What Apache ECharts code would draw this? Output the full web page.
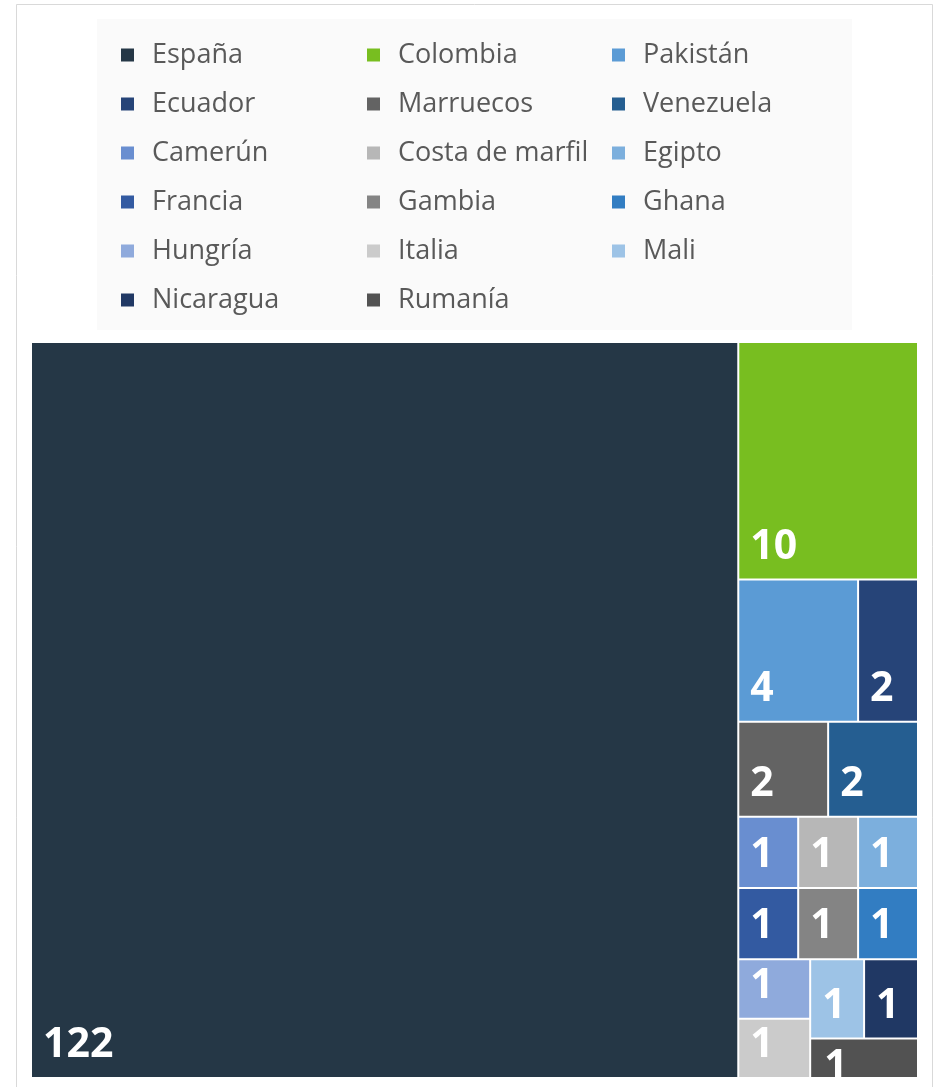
<!DOCTYPE html>
<html>
<head>
<meta charset="utf-8">
<script src="https://cdn.jsdelivr.net/npm/echarts@6/dist/echarts.min.js"></script>
<style>
    html, body { margin: 0; padding: 0; background: #fff; }
    #chart { width: 942px; height: 1087px; }
</style>
</head>
<body>
<div id="chart"></div>
<script>
// countries, values, colours (same order as the legend)
var countries = ['España', 'Colombia', 'Pakistán', 'Ecuador', 'Marruecos', 'Venezuela',
    'Camerún', 'Costa de marfil', 'Egipto', 'Francia', 'Gambia', 'Ghana',
    'Hungría', 'Italia', 'Mali', 'Nicaragua', 'Rumanía'];
var values = [122, 10, 4, 2, 2, 2, 1, 1, 1, 1, 1, 1, 1, 1, 1, 1, 1];
var colors = ['#253746', '#78be20', '#5b9bd5', '#264478', '#636363', '#255e91',
    '#698ed0', '#b7b7b7', '#7cafdd', '#335aa1', '#848484', '#327dc2',
    '#8faadc', '#cbcbcb', '#9dc3e6', '#203864', '#525252'];

var nodes = [];
for (let i = 0; i < countries.length; i++) {
    var node = {
        name: countries[i],
        value: values[i],
        itemStyle: { color: colors[i] }
    };
    // the flat cell at the bottom right: its label spills out at the bottom
    if (countries[i] === 'Rumanía') {
        node.label = { lineHeight: 26, position: [8, 10] };
    }
    nodes.push(node);
}

// legend split in 3 columns, row-major order
var cols = [[], [], []];
countries.forEach(function (c, i) { cols[i % 3].push(c); });
var colLeft = [121, 367, 612];

var legends = cols.map(function (names, k) {
    return {
        orient: 'vertical',
        left: colLeft[k],
        top: 41,
        padding: 0,
        icon: 'rect',
        itemWidth: 13,
        itemHeight: 13,
        itemGap: 21,
        selectedMode: false,
        textStyle: {
            fontFamily: 'Open Sans',
            fontSize: 27,
            lineHeight: 28,
            color: '#595959',
            padding: [0, 0, 0, 13]
        },
        data: names
    };
});

var option = {
    backgroundColor: '#fff',
    animation: false,
    graphic: [
        {
            type: 'rect',
            silent: true,
            shape: { x: 16.5, y: 4.5, width: 916, height: 1100 },
            style: { fill: 'none', stroke: '#d9d9d9', lineWidth: 1 }
        },
        {
            type: 'rect',
            silent: true,
            shape: { x: 97, y: 19, width: 755, height: 311 },
            style: { fill: '#fafafa' }
        }
    ],
    legend: legends,
    series: [
        // invisible pie, only used to feed the legend
        {
            type: 'pie',
            radius: [0, 0],
            center: [-100, -100],
            silent: true,
            label: { show: false },
            labelLine: { show: false },
            data: nodes.map(function (n) {
                return { name: n.name, value: n.value, itemStyle: { color: n.itemStyle.color } };
            })
        },
        {
            type: 'treemap',
            left: 32,
            top: 343,
            width: 885,
            height: 734,
            roam: false,
            nodeClick: false,
            sort: false,
            squareRatio: 1.4,
            breadcrumb: { show: false },
            levels: [
                { itemStyle: { borderWidth: 0, gapWidth: 2 } },
                { itemStyle: { borderWidth: 0, gapWidth: 0 } }
            ],
            label: {
                show: true,
                position: 'insideBottomLeft',
                distance: 6,
                formatter: '{c}',
                color: '#fff',
                fontFamily: 'Open Sans',
                fontWeight: 'bold',
                fontSize: 41,
                overflow: 'none'
            },
            upperLabel: { show: false },
            data: nodes
        }
    ]
};

var myChart = echarts.init(document.getElementById('chart'));
myChart.setOption(option);
</script>
</body>
</html>
